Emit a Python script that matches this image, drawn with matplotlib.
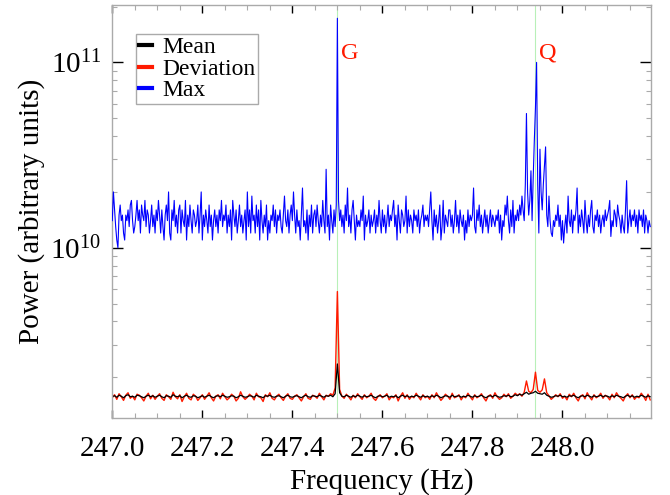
import numpy as np
import matplotlib
matplotlib.use("Agg")
import matplotlib.pyplot as plt
from matplotlib.ticker import MultipleLocator, LogLocator, NullFormatter, FormatStrFormatter
from matplotlib.lines import Line2D

plt.rcParams['font.family'] = ['Liberation Serif', 'DejaVu Serif']
plt.rcParams['mathtext.fontset'] = 'stix'

# ---------------- data ----------------
# Max spectrum (units of 1e9), frequency bins start 247.0 Hz, step 0.0025 Hz
max_f0, max_df = 247.0, 0.0025
max_vals = [
    14, 20, 16, 13, 11, 10, 15, 17, 14, 15, 12, 11, 15, 14, 16, 13, 17, 18, 14, 12,
    13, 15, 18, 14, 16, 12, 17, 15, 14, 18, 13, 16, 15, 12, 14, 17, 13, 15, 12, 16,
    14, 18, 15, 12, 16, 13, 11, 15, 17, 14, 20, 12, 11, 16, 14, 18, 13, 15, 12, 16,
    17, 12, 16, 14, 13, 18, 11, 15, 13, 17, 14, 12, 16, 15, 13, 14, 17, 12, 15, 20,
    11, 15, 13, 16, 14, 12, 17, 13, 15, 11, 14, 16, 13, 15, 12, 16, 14, 18, 13, 15,
    14, 17, 12, 15, 13, 16, 11, 18, 15, 13, 16, 12, 14, 17, 13, 15, 12, 14, 16, 11,
    20, 13, 16, 12, 19, 14, 15, 12, 17, 13, 16, 11, 18, 14, 12, 15, 13, 17, 11, 14,
    12, 15, 14, 17, 13, 16, 12, 15, 14, 16, 13, 12, 15, 19, 14, 13, 16, 12, 15, 17,
    14, 20, 15, 12, 16, 13, 14, 11, 15, 21, 13, 14, 12, 16, 11, 15, 13, 17, 12, 15,
    16, 13, 17, 14, 12, 15, 13, 18, 14, 12, 26.5, 13, 15, 11, 17, 14, 12, 16, 13, 17,
    173, 18, 14, 16, 13, 15, 12, 17, 14, 21, 13, 15, 12, 16, 18, 14, 11, 15, 13, 14,
    13, 16, 14, 19, 11, 15, 13, 14, 16, 12, 15, 13, 14, 16, 12, 15, 13, 18, 14, 12,
    16, 13, 15, 12, 14, 17, 13, 15, 14, 16, 18, 13, 15, 11, 17, 14, 12, 16, 15, 13,
    14, 19, 12, 16, 13, 15, 14, 12, 16, 14, 15, 13, 16, 12, 14, 15, 17, 13, 15, 14,
    15, 13, 16, 20, 14, 11, 16, 13, 15, 12, 14, 17, 11, 13, 18, 12, 15, 14, 13, 16,
    16, 13, 15, 12, 14, 18, 13, 15, 12, 16, 14, 13, 15, 11, 14, 12, 16, 13, 15, 14,
    15, 21, 13, 12, 16, 14, 17, 13, 15, 12, 14, 16, 13, 15, 12, 14, 16, 13, 15, 14,
    13, 15, 14, 16, 12, 15, 11, 14, 13, 17, 15, 19, 14, 12, 16, 13, 18, 12, 15, 14,
    16, 14, 17, 15, 19, 16, 14, 22, 53, 20, 15, 18, 26, 14, 24, 38, 57, 100, 22, 12,
    34, 20, 16, 22, 28, 35, 15, 13, 19, 14, 12, 11.5, 14, 13, 15, 14, 17, 13, 15, 11,
    14, 10.6, 13, 15, 12, 19, 14, 13, 16, 12, 15, 14, 16, 21, 12, 15, 13, 16, 14, 12,
    18, 14, 12, 15, 13, 16, 18, 13, 12, 15, 14, 16, 13, 15, 12, 14, 15, 13, 16, 14,
    15, 16, 18, 11.5, 14, 13, 16, 15, 13, 17, 15, 14, 12, 15, 13, 12, 16, 23, 12, 14,
    16, 13, 15, 14, 16, 13, 15, 12, 16, 14, 15, 13, 16, 12, 15, 14, 12, 14, 13,
]

# Mean and deviation spectra (units of 1e7), bins start 247.0 Hz, step 0.005 Hz
avg_f0, avg_df = 247.0, 0.005
mean_vals = [
    157, 159, 156, 160, 158, 155, 159, 161, 157, 158, 156, 160, 159, 157, 155, 158, 160, 157, 159, 156,
    158, 160, 157, 155, 159, 158, 156, 161, 158, 157, 159, 155, 158, 160, 157, 156, 159, 158, 155, 157,
    159, 156, 158, 160, 157, 155, 158, 159, 157, 160, 158, 156, 157, 159, 158, 155, 157, 160, 158, 156,
    157, 159, 158, 156, 160, 158, 157, 155, 159, 158, 160, 157, 156, 158, 159, 157, 155, 158, 160, 157,
    156, 158, 159, 157, 155, 158, 160, 157, 156, 159, 158, 157, 160, 158, 156, 159, 158, 160, 157, 163,
    236, 165, 158, 157, 160, 158, 156, 159, 157, 160, 158, 156, 159, 157, 158, 160, 157, 155, 158, 159,
    157, 158, 160, 156, 158, 157, 159, 155, 158, 160, 157, 159, 156, 158, 157, 160, 158, 156, 159, 157,
    158, 156, 159, 157, 160, 158, 155, 157, 159, 158, 156, 160, 157, 158, 159, 156, 158, 157, 160, 158,
    156, 159, 157, 158, 160, 157, 155, 158, 159, 157, 160, 158, 156, 157, 159, 158, 160, 157, 158, 161,
    159, 162, 160, 163, 166, 162, 164, 165, 168, 164, 163, 162, 165, 160, 158, 156, 157, 159, 158, 160,
    157, 158, 156, 159, 158, 160, 157, 155, 158, 159, 157, 160, 158, 156, 159, 157, 158, 160, 157, 159,
    158, 156, 159, 157, 160, 158, 157, 155, 158, 160, 157, 159, 156, 158, 157, 160, 158, 156, 159, 157,
]
dev_vals = [
    155, 161, 152, 163, 157, 150, 160, 165, 154, 158, 151, 162, 160, 155, 149, 158, 164, 153, 160, 152,
    158, 163, 154, 150, 161, 157, 152, 166, 157, 153, 161, 148, 157, 164, 154, 151, 162, 158, 150, 155,
    161, 152, 158, 165, 155, 149, 158, 161, 153, 164, 157, 151, 155, 162, 158, 149, 154, 167, 157, 152,
    156, 162, 158, 151, 164, 157, 155, 148, 161, 157, 165, 154, 151, 158, 162, 155, 150, 158, 163, 154,
    152, 158, 161, 155, 149, 157, 163, 154, 152, 160, 158, 154, 164, 157, 151, 160, 158, 163, 160, 175,
    580, 172, 158, 154, 162, 157, 151, 160, 155, 163, 157, 152, 161, 155, 158, 164, 154, 150, 157, 161,
    155, 158, 163, 151, 157, 155, 161, 149, 158, 165, 154, 161, 152, 158, 155, 164, 157, 151, 161, 155,
    158, 152, 161, 155, 165, 157, 150, 155, 162, 158, 152, 164, 155, 157, 161, 151, 158, 155, 164, 157,
    151, 161, 155, 158, 163, 155, 149, 158, 161, 154, 165, 157, 152, 155, 162, 157, 163, 154, 158, 164,
    160, 163, 158, 166, 191, 168, 165, 172, 213, 170, 166, 171, 196, 165, 159, 152, 156, 161, 157, 163,
    154, 158, 151, 162, 157, 164, 155, 149, 158, 161, 153, 165, 157, 151, 161, 155, 158, 164, 154, 160,
    157, 151, 162, 155, 165, 158, 154, 149, 158, 163, 155, 161, 152, 157, 155, 164, 158, 150, 162, 151,
]

line_freqs = [247.5, 247.94]
line_labels = ["G", "Q"]
xticks = [247.0, 247.2, 247.4, 247.6, 247.8, 248.0]

# ---------------- figure ----------------
fig = plt.figure(figsize=(6.7, 4.95), dpi=100)
ax = fig.add_axes([0.1676, 0.1556, 0.8036, 0.8343])

f_max = max_f0 + max_df * np.arange(len(max_vals))
f_avg = avg_f0 + avg_df * np.arange(len(mean_vals))

for fl in line_freqs:
    ax.axvline(fl, color='#b8f0b8', lw=0.8, zorder=1)

ax.plot(f_max, np.array(max_vals) * 1e9, color='#0000ff', lw=0.8, zorder=3)
ax.plot(f_avg, np.array(dev_vals) * 1e7, color='#ff1a00', lw=1.0, zorder=2)
ax.plot(f_avg, np.array(mean_vals) * 1e7, color='black', lw=0.9, zorder=2.5)

ax.set_yscale('log')
ax.set_xlim(247.0, 248.196)
ax.set_ylim(1.206e9, 2.04e11)

ax.set_xticks(xticks)
ax.xaxis.set_major_formatter(FormatStrFormatter('%.1f'))
ax.xaxis.set_minor_locator(MultipleLocator(0.05))
ax.yaxis.set_minor_locator(LogLocator(base=10, subs=np.arange(2, 10)))
ax.yaxis.set_minor_formatter(NullFormatter())

ax.tick_params(which='both', direction='in', top=True, right=True, labelsize=21)
ax.tick_params(which='major', length=6, width=1, color='black')
ax.tick_params(axis='x', which='major', pad=13)
ax.tick_params(axis='y', which='major', length=8, pad=8)
ax.tick_params(which='minor', length=3.5, width=0.8, color='#aaaaaa')
for sp in ax.spines.values():
    sp.set_color('#aaaaaa')
    sp.set_linewidth(1)

ax.set_xlabel('Frequency (Hz)', fontsize=21, labelpad=4)
ax.set_ylabel('Power (arbitrary units)', fontsize=21, labelpad=4)

for fl, lab in zip(line_freqs, line_labels):
    ax.text(fl + 0.028, 1.12e11, lab, color='#ff1a00', fontsize=17.5,
            ha='center', va='center')

handles = [Line2D([], [], color='black', lw=3),
           Line2D([], [], color='#ff1a00', lw=3),
           Line2D([], [], color='#0000ff', lw=3)]
leg = ax.legend(handles, ['Mean', 'Deviation', 'Max'], loc='upper left',
                bbox_to_anchor=(0.0435, 0.93), borderaxespad=0, fontsize=17,
                handlelength=0.55, handletextpad=0.45, labelspacing=0.0,
                borderpad=0.12, fancybox=False, framealpha=1, edgecolor='#aaaaaa')
leg.get_frame().set_linewidth(1)

fig.savefig('out.png', dpi=100)
